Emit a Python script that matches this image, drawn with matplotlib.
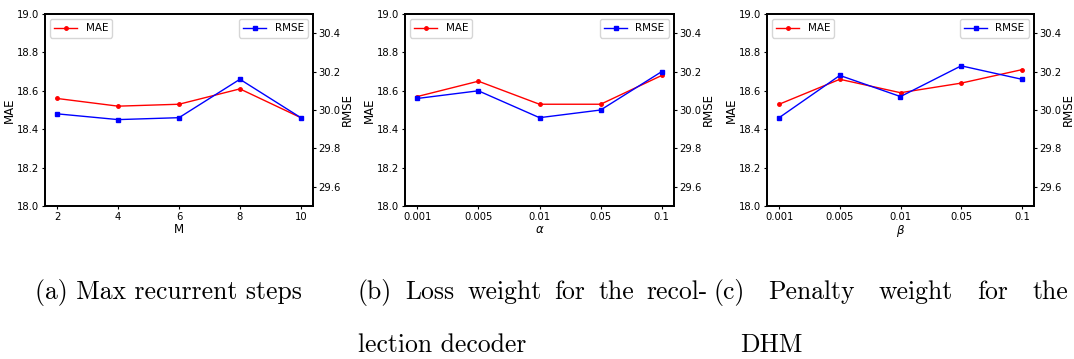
import matplotlib.pyplot as plt
import numpy as np

# panel (a): max recurrent steps
m_steps = [2, 4, 6, 8, 10]
mae_m = [18.56, 18.52, 18.53, 18.61, 18.46]
rmse_m = [29.98, 29.95, 29.96, 30.16, 29.96]

# panel (b): alpha, panel (c): beta
weights = ['0.001', '0.005', '0.01', '0.05', '0.1']
mae_alpha = [18.57, 18.65, 18.53, 18.53, 18.68]
rmse_alpha = [30.06, 30.10, 29.96, 30.00, 30.20]
mae_beta = [18.53, 18.66, 18.59, 18.64, 18.71]
rmse_beta = [29.96, 30.18, 30.07, 30.23, 30.16]

fig = plt.figure(figsize=(10.74, 3.59), dpi=100)
W, H = 1074, 359

panels = [
    (45, 313, m_steps, None, mae_m, rmse_m, 'M'),
    (405, 674, list(range(5)), weights, mae_alpha, rmse_alpha, r'$\alpha$'),
    (767, 1034, list(range(5)), weights, mae_beta, rmse_beta, r'$\beta$'),
]

for left, right, x, labels, mae, rmse, xlab in panels:
    ax = fig.add_axes([left / W, 1 - 206 / H, (right - left) / W, 192 / H])
    l1, = ax.plot(x, mae, color='red', marker='.', ms=5, lw=1, label='MAE')
    ax.set_ylim(18.0, 19.0)
    ax.set_yticks(np.arange(18.0, 19.01, 0.2))
    ax.set_ylabel('MAE', fontsize=8.5, labelpad=1)
    ax.set_xlabel(xlab, fontsize=8.5, labelpad=1)
    ax.set_xticks(x)
    if labels is not None:
        ax.set_xticklabels(labels)
    ax.tick_params(labelsize=7.2, length=2.5, pad=1.5)
    ax2 = ax.twinx()
    l2, = ax2.plot(x, rmse, color='blue', marker='s', ms=3.5, lw=1, label='RMSE')
    ax2.set_ylim(29.5, 30.5)
    ax2.set_yticks([29.6, 29.8, 30.0, 30.2, 30.4])
    ax2.set_ylabel('RMSE', fontsize=8.5, labelpad=0)
    ax2.tick_params(labelsize=7.2, length=2.5, pad=1.2)
    for a in (ax, ax2):
        for s in a.spines.values():
            s.set_linewidth(1.3)
    ax.legend(handles=[l1], loc='upper left', fontsize=7.5, handlelength=2.2,
              borderpad=0.4, borderaxespad=0.5)
    ax2.legend(handles=[l2], loc='upper right', fontsize=7.5, handlelength=2.2,
               borderpad=0.4, borderaxespad=0.5)

# captions
cap = dict(fontsize=18.5, fontfamily='cmr10', va='baseline')
line1, line2 = 299, 352
renderer = fig.canvas.get_renderer()


def justify(words, x0, x1, y):
    texts = [fig.text(0, 1 - y / H, w, **cap) for w in words]
    widths = [t.get_window_extent(renderer).width for t in texts]
    gap = (x1 - x0 - sum(widths)) / (len(words) - 1)
    xp = x0
    for t, wd in zip(texts, widths):
        t.set_x(xp / W)
        xp += wd + gap


fig.text(35 / W, 1 - line1 / H, '(a) Max recurrent steps', **cap)
justify(['(b)', 'Loss', 'weight', 'for', 'the', 'recol-'], 358, 708, line1)
fig.text(358 / W, 1 - line2 / H, 'lection decoder', **cap)
justify(['(c)', 'Penalty', 'weight', 'for', 'the'], 713, 1068, line1)
fig.text(740 / W, 1 - line2 / H, 'DHM', **cap)

fig.savefig('out.png', dpi=100)
